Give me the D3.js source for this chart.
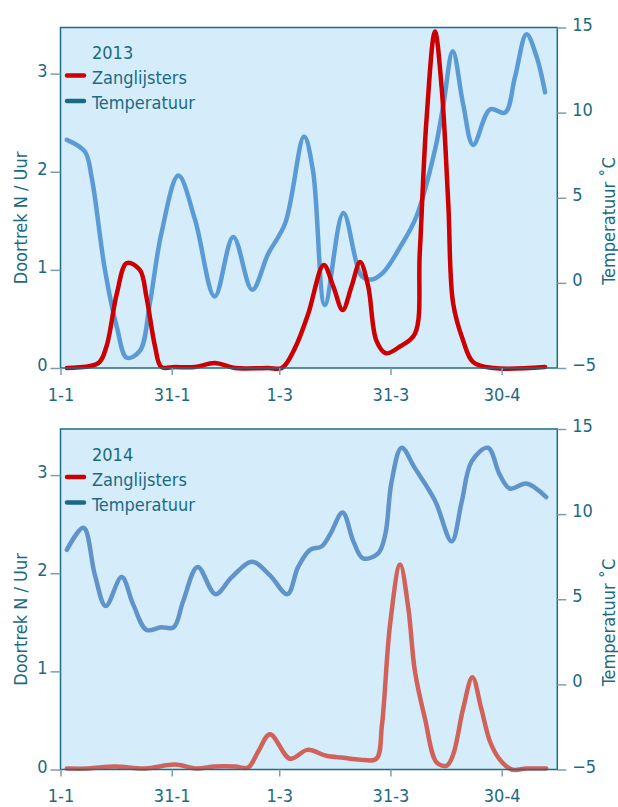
<!DOCTYPE html>
<html>
<head>
<meta charset="utf-8">
<script src="https://cdn.jsdelivr.net/npm/d3@7"></script>
<style>
  body { margin: 0; background: #fff; }
  text { font-family: "DejaVu Sans Condensed", "DejaVu Sans", sans-serif; }
</style>
</head>
<body>
<svg id="chart" width="618" height="807"></svg>
<script>
// x = dag van het jaar (1-1 = 0)
var dayTicks = [0, 30, 59, 89, 119];
var dayLabels = ["1-1", "31-1", "1-3", "31-3", "30-4"];
var birdTicks = [0, 1, 2, 3];
var tempTicks = [-5, 0, 5, 10, 15];
var years = ["2013", "2014"];
var seriesNames = ["Zanglijsters", "Temperatuur"];

// temperatuur (graden C), [dag, waarde]
var temp2013 = [[1.7,8.4],[6.6,7.7],[8.4,6.2],[12.0,0.75],[15.2,-2.6],[17.9,-4.4],[21.4,-4.0],[24.1,-1.2],[27.2,2.9],[31.8,6.3],[36.3,3.7],[41.6,-0.8],[46.6,2.7],[51.7,-0.4],[56.0,1.7],[60.6,3.5],[65.7,8.6],[68.1,6.6],[71.3,-1.3],[76.3,4.1],[81.2,0.4],[83.9,0.2],[87.0,0.6],[91.6,2.1],[96.0,3.9],[101.0,7.8],[103.3,10.5],[105.8,13.6],[108.6,10.5],[111.3,8.1],[115.9,10.2],[119.9,10.0],[122.6,12.1],[125.7,14.6],[128.4,13.3],[130.7,11.2]];
// doortrek zanglijsters (N / uur)
var birds2013 = [[1.7,0],[10.2,0.05],[12.4,0.22],[15.2,0.76],[17.9,1.07],[21.4,1.0],[23.2,0.72],[25.5,0.22],[27.2,0.01],[30.9,0.01],[36.3,0.01],[41.6,0.05],[47.1,0.0],[56.0,0.0],[59.7,0],[63.2,0.2],[66.8,0.55],[71.0,1.05],[73.6,0.83],[76.1,0.59],[78.5,0.83],[80.8,1.08],[83.0,0.83],[85.2,0.28],[87.8,0.15],[91.6,0.22],[95.6,0.35],[96.9,1.17],[98.7,2.52],[101.0,3.43],[102.8,2.86],[104.6,1.67],[105.9,0.66],[108.6,0.28],[111.3,0.06],[116.8,0],[130.7,0.01]];

var temp2014 = [[1.7,7.9],[6.2,9.2],[9.3,6.4],[12.2,4.6],[16.5,6.3],[19.6,4.7],[23.2,3.2],[27.1,3.35],[30.5,3.35],[33.1,4.9],[37.0,6.9],[41.8,5.3],[46.2,6.3],[51.7,7.2],[56.5,6.4],[61.2,5.3],[64.1,6.9],[67.3,7.9],[70.4,8.1],[72.7,8.8],[76.1,10.1],[79.0,8.4],[81.6,7.4],[85.7,7.7],[87.6,8.8],[89.3,11.9],[92.0,13.9],[95.6,12.7],[101.0,10.8],[105.5,8.4],[108.2,10.7],[110.9,13.1],[115.3,13.9],[118.5,12.3],[121.2,11.5],[125.7,11.8],[131.0,11.0]];
var birds2014 = [[1.7,0.01],[7.5,0.01],[14.6,0.03],[22.8,0.01],[30.9,0.05],[36.7,0.01],[41.6,0.03],[47.1,0.03],[50.6,0.02],[53.3,0.18],[56.5,0.36],[61.9,0.11],[66.6,0.2],[71.7,0.14],[76.3,0.12],[80.8,0.10],[85.2,0.11],[86.7,0.45],[88.9,1.48],[91.6,2.09],[93.8,1.65],[95.6,1.0],[98.3,0.52],[101.5,0.07],[104.2,0.04],[105.9,0.15],[108.6,0.62],[111.1,0.94],[113.5,0.62],[115.9,0.28],[118.5,0.10],[121.7,0],[125.7,0.01],[131.0,0.01]];

var TEXT = "#1b6a83";
var TICK = "#7d9fad";
var left = 60.5, right = 557.3, plotH = 340.5;

var svg = d3.select("#chart");

var x = d3.scaleLinear().domain([0, 134]).range([left, right]);

function drawPanel(top, year, temp, birds, tempColor, birdColor) {
  var yB = d3.scaleLinear().domain([0, 3.47]).range([top + plotH, top]);
  var yT = d3.scaleLinear().domain([-5, 15]).range([top + plotH, top]);
  var g = svg.append("g");

  g.append("rect")
    .attr("x", left).attr("y", top)
    .attr("width", right - left).attr("height", plotH)
    .attr("fill", "#d5edfa");

  var lineT = d3.line().x(function(d){ return x(d[0]); }).y(function(d){ return yT(d[1]); }).curve(d3.curveCatmullRom.alpha(0.5));
  var lineB = d3.line().x(function(d){ return x(d[0]); }).y(function(d){ return yB(d[1]); }).curve(d3.curveCatmullRom.alpha(0.5));

  g.append("path").datum(temp).attr("d", lineT)
    .attr("fill", "none").attr("stroke", tempColor).attr("stroke-width", 4.5)
    .attr("stroke-linecap", "round").attr("stroke-linejoin", "round");
  g.append("path").datum(birds).attr("d", lineB)
    .attr("fill", "none").attr("stroke", birdColor).attr("stroke-width", 4.5)
    .attr("stroke-linecap", "round").attr("stroke-linejoin", "round");

  g.append("rect")
    .attr("x", left).attr("y", top)
    .attr("width", right - left).attr("height", plotH)
    .attr("fill", "none").attr("stroke", "#1d6c86").attr("stroke-width", 1.5);

  // assen
  var axL = g.append("g").attr("transform", "translate(" + left + ",0)")
    .call(d3.axisLeft(yB).tickValues(birdTicks).tickFormat(d3.format("d")).tickSize(10).tickPadding(3));
  var axR = g.append("g").attr("transform", "translate(" + right + ",0)")
    .call(d3.axisRight(yT).tickValues(tempTicks).tickFormat(d3.format("d")).tickSize(9).tickPadding(6));
  var axB = g.append("g").attr("transform", "translate(0," + (top + plotH) + ")")
    .call(d3.axisBottom(x).tickValues(dayTicks).tickFormat(function(d, i){ return dayLabels[i]; }).tickSize(7).tickPadding(13));

  [axL, axR, axB].forEach(function(a) {
    a.select(".domain").remove();
    a.selectAll("line").attr("stroke", TICK).attr("stroke-width", 1.5);
    a.selectAll("text").attr("fill", TEXT).style("font-size", "18px")
      .style("font-family", '"DejaVu Sans Condensed", "DejaVu Sans", sans-serif');
  });
  axL.selectAll("text").attr("dy", "0.14em");
  axR.selectAll("text").attr("dy", "0.14em");

  // as-titels
  g.append("text")
    .attr("transform", "translate(27," + (top + 190.5) + ") rotate(-90)")
    .attr("text-anchor", "middle").attr("fill", TEXT).style("font-size", "18px")
    .text("Doortrek N / Uur");
  g.append("text")
    .attr("transform", "translate(614.5," + (top + 193.5) + ") rotate(-90)")
    .attr("text-anchor", "middle").attr("fill", TEXT).style("font-size", "18px")
    .text("Temperatuur \u02DAC");

  // legenda
  var lg = g.append("g").attr("transform", "translate(0," + top + ")");
  lg.append("text").attr("x", 92).attr("y", 31.5).attr("fill", TEXT).style("font-size", "18px").text(year);
  var legColors = ["#cc0000", "#1a6a85"];
  seriesNames.forEach(function(name, i) {
    var yy = 48 + i * 25.5;
    lg.append("line").attr("x1", 67).attr("x2", 84).attr("y1", yy).attr("y2", yy)
      .attr("stroke", legColors[i]).attr("stroke-width", 4.5).attr("stroke-linecap", "round");
    lg.append("text").attr("x", 92).attr("y", 56.5 + i * 25).attr("fill", TEXT).style("font-size", "18px").text(name);
  });
}

drawPanel(27.5, years[0], temp2013, birds2013, "#5b9bd5", "#cc0000");
drawPanel(429, years[1], temp2014, birds2014, "#6193cb", "#d1625a");
</script>
</body>
</html>
